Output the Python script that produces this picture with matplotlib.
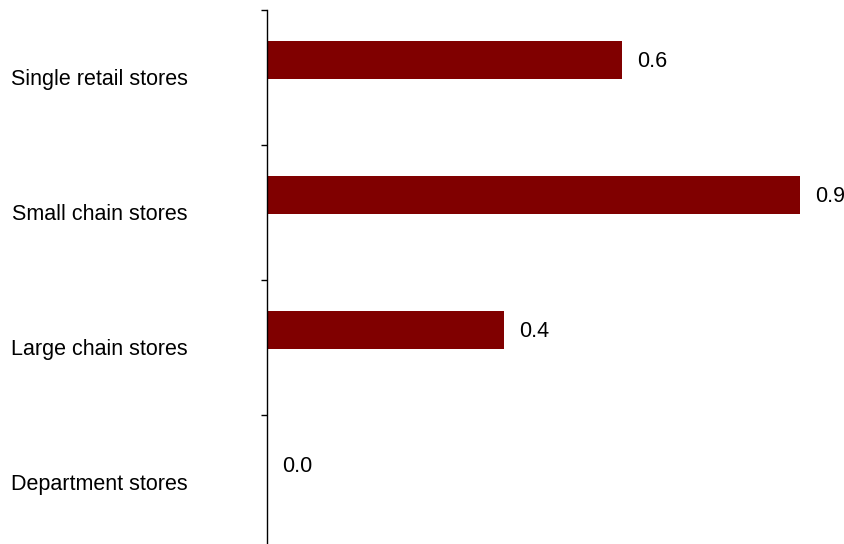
import matplotlib.pyplot as plt

plt.rcParams['font.family'] = ['Liberation Sans', 'DejaVu Sans']

# 数据
categories = ['Single retail stores', 'Small chain stores', 'Large chain stores', 'Department stores']
values = [0.6, 0.9, 0.4, 0.0]
value_labels = ['0.6', '0.9', '0.4', '0.0']

W, H = 844, 544
fig = plt.figure(figsize=(W / 100, H / 100), dpi=100)
# 轴区域: 左边 x=267px, 顶部 y=10px, 底部超出画面
ax = fig.add_axes([267 / W, -6 / H, (W - 267) / W, 540 / H])

# 条形相对分类中心上移一点 (类似分组柱状图)
shift = -18 / 135
ypos = [i + shift for i in range(len(categories))]
ax.barh(ypos, values, height=38 / 135, color='#800000')

ax.set_xlim(0, (W - 267) / 592)
ax.set_ylim(len(categories) - 0.5, -0.5)

px = 0.72  # 像素 -> 点

# 数值标签, 距条形末端约 15 像素
for y, v, lab in zip(ypos, values, value_labels):
    ax.annotate(lab, xy=(v, y), xytext=(15 * px, -2 * px), textcoords='offset points',
                ha='left', va='center', fontsize=15.5, color='black',
                annotation_clip=False)

# 分类标签放在刻度之间
ax.set_yticks([i - 0.5 for i in range(len(categories))])
ax.set_yticklabels([])
ax.tick_params(axis='y', direction='out', length=6 * px, width=1, color='black')
for i, cat in enumerate(categories):
    ax.annotate(cat, xy=(0, i), xytext=(-79 * px, -2 * px), textcoords='offset points',
                ha='right', va='center', fontsize=15.5, annotation_clip=False)

ax.set_xticks([])
for s in ['top', 'right', 'bottom']:
    ax.spines[s].set_visible(False)
ax.spines['left'].set_color('black')
ax.spines['left'].set_linewidth(1)

fig.savefig('out.png', dpi=100)
